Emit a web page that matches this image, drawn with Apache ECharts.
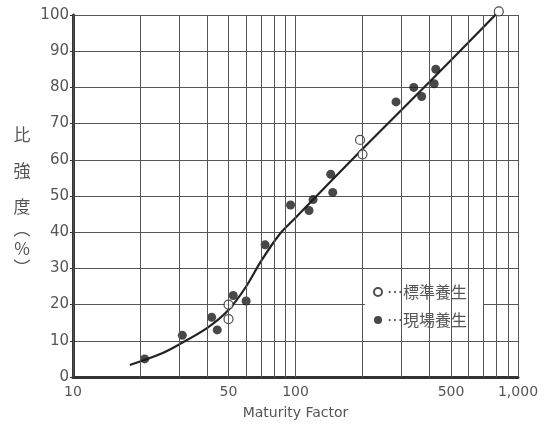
<!DOCTYPE html>
<html>
<head>
<meta charset="utf-8">
<script src="https://cdn.jsdelivr.net/npm/echarts@6/dist/echarts.min.js"></script>
<style>
  html, body { margin: 0; padding: 0; background: #fff; }
  #chart { width: 545px; height: 425px; }
</style>
</head>
<body>
<div id="chart"></div>
<script>
  // 標準養生 (open circles)
  const standardCure = [[50, 20], [50, 16], [195, 65.5], [200, 61.5], [820, 101]];
  // 現場養生 (filled circles)
  const fieldCure = [
    [21, 5], [31, 11.5], [42, 16.5], [44.5, 13], [52.5, 22.5], [60, 21], [73, 36.5],
    [95, 47.5], [115, 46], [120, 49], [144, 56], [147, 51],
    [283, 76], [340, 80], [369, 77.5], [420, 81], [427, 85]
  ];
  // fitted curve
  const curve = [
    [18, 3.3], [25, 6.5], [30, 9], [40, 13.5], [50, 18.5], [60, 25], [70, 32],
    [85, 39.5], [100, 44], [200, 63], [400, 81.5], [820, 101]
  ];
  const xLabels = [10, 50, 100, 500, 1000];
  const xGrid = [10, 20, 30, 40, 50, 60, 70, 80, 90, 100, 200, 300, 400, 500, 600, 700, 800, 900, 1000];
  // vertical y-axis title, one glyph per entry
  const yTitle = [['比', 135], ['強', 171], ['度', 207], ['︵', 229], ['%', 249], ['︶', 268]];

  const ink = '#333';
  const textColor = '#555';

  var myChart = echarts.init(document.getElementById('chart'));
  myChart.setOption({
    animation: false,
    backgroundColor: '#fff',
    textStyle: { fontFamily: 'DejaVu Sans' },
    grid: { left: 73, right: 27, top: 15, bottom: 48 },
    legend: {
      left: 365,
      top: 270,
      orient: 'vertical',
      itemWidth: 8,
      itemHeight: 8,
      itemGap: 12,
      padding: [14, 16, 12, 8],
      backgroundColor: '#fff',
      textStyle: { color: textColor, fontSize: 16, fontFamily: 'Noto Sans CJK JP' },
      data: [
        { name: '…標準養生', icon: 'circle' },
        { name: '…現場養生', icon: 'circle' }
      ]
    },
    xAxis: {
      type: 'log',
      logBase: 10,
      min: 10,
      max: 1000,
      name: 'Maturity Factor',
      nameLocation: 'middle',
      nameGap: 29,
      nameTextStyle: { color: textColor, fontSize: 14 },
      axisLine: { lineStyle: { color: ink, width: 3 } },
      axisTick: { show: false },
      splitLine: { show: false },
      axisLabel: {
        color: textColor,
        fontSize: 14,
        margin: 8,
        customValues: xLabels,
        formatter: (v) => (v >= 1000 ? '1,000' : String(v))
      }
    },
    yAxis: {
      type: 'value',
      min: 0,
      max: 100,
      interval: 10,
      axisLine: { show: true, lineStyle: { color: ink, width: 3 } },
      axisTick: { show: true, length: 3, lineStyle: { color: ink } },
      axisLabel: { color: textColor, fontSize: 15, margin: 4 },
      splitLine: { lineStyle: { color: '#555', width: 1 } }
    },
    graphic: yTitle.map(([ch, y]) => ({
      type: 'text',
      x: 22,
      y: y,
      style: {
        text: ch,
        font: '17px "Noto Sans CJK JP"',
        fill: textColor,
        align: 'center',
        verticalAlign: 'middle'
      }
    })),
    series: [
      {
        name: 'curve',
        type: 'line',
        data: curve,
        smooth: 0.3,
        symbol: 'none',
        lineStyle: { color: '#222', width: 2.2 },
        z: 3,
        markLine: {
          silent: true,
          symbol: 'none',
          label: { show: false },
          lineStyle: { color: '#555', width: 1, type: 'solid' },
          data: xGrid.map((v) => ({ xAxis: v }))
        }
      },
      {
        name: '…標準養生',
        type: 'scatter',
        data: standardCure,
        symbolSize: 9,
        clip: false,
        itemStyle: { color: '#fff', borderColor: '#222', borderWidth: 1.2 },
        z: 4
      },
      {
        name: '…現場養生',
        type: 'scatter',
        data: fieldCure,
        symbolSize: 9,
        itemStyle: { color: '#1a1a1a' },
        z: 4
      }
    ]
  });
</script>
</body>
</html>
